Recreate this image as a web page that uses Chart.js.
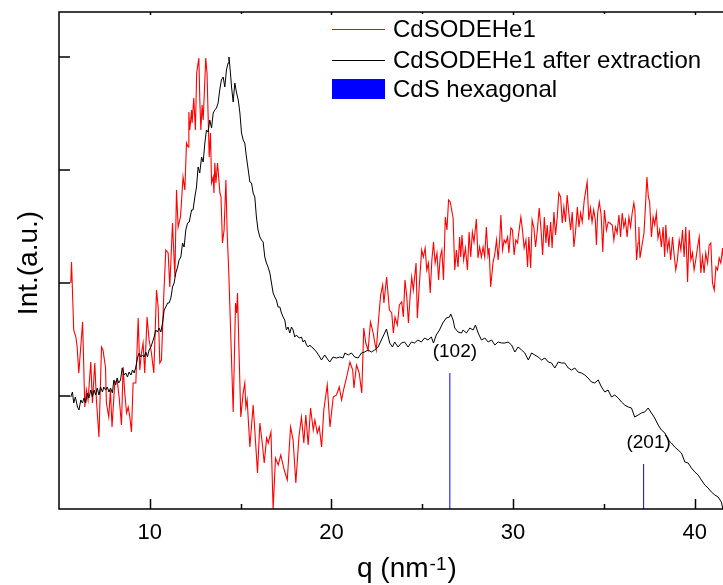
<!DOCTYPE html>
<html>
<head>
<meta charset="utf-8">
<script src="https://cdn.jsdelivr.net/npm/chart.js@4.4.1/dist/chart.umd.min.js"></script>
<style>
  html, body { margin: 0; padding: 0; background: #ffffff; }
  #wrap { width: 723px; height: 585px; }
</style>
</head>
<body>
<div id="wrap"><canvas id="c" width="723" height="585"></canvas></div>
<script>
// ---------------- data ----------------
const qRed = [
  5.65,5.69,5.81,5.93,6.00,6.09,6.30,6.42,6.51,6.60,
  6.75,6.84,6.97,7.06,7.20,7.34,7.42,7.56,7.61,7.74,
  7.83,7.92,8.07,8.20,8.31,8.44,8.53,8.62,8.72,8.81,
  8.90,8.99,9.08,9.23,9.36,9.45,9.54,9.63,9.72,9.85,
  9.96,10.09,10.22,10.37,10.46,10.55,10.64,10.77,10.88,11.01,
  11.10,11.25,11.38,11.47,11.56,11.69,11.83,11.93,12.02,12.11,
  12.15,12.20,12.30,12.33,12.42,12.51,12.58,12.70,12.75,12.81,
  12.88,12.94,13.08,13.15,13.27,13.34,13.40,13.49,13.53,13.58,
  13.64,13.73,13.86,13.92,14.00,14.09,14.19,14.26,14.35,14.59,
  14.72,14.78,14.83,14.92,15.01,15.14,15.23,15.29,15.36,15.51,
  15.69,15.78,15.93,16.06,16.19,16.30,16.43,16.52,16.67,16.79,
  16.92,17.07,17.21,17.40,17.57,17.75,17.89,18.04,18.21,18.35,
  18.48,18.59,18.72,18.85,19.00,19.09,19.22,19.33,19.46,19.58,
  19.77,19.92,20.10,20.28,20.43,20.56,20.69,20.84,21.02,21.17,
  21.24,21.38,21.53,21.67,21.78,21.89,22.02,22.15,22.30,22.36,
  22.47,22.58,22.71,22.82,22.89,23.04,23.19,23.32,23.41,23.50,
  23.63,23.74,23.87,23.96,24.05,24.15,24.24,24.33,24.42,24.51,
  24.66,24.73,24.84,24.97,25.06,25.16,25.25,25.34,25.44,25.53,
  25.62,25.71,25.81,25.90,25.99,26.08,26.17,26.27,26.36,26.45,
  26.54,26.70,26.79,26.88,26.97,27.06,27.12,27.19,27.28,27.38,
  27.49,27.58,27.67,27.76,27.85,27.98,28.07,28.16,28.26,28.35,
  28.44,28.53,28.62,28.68,28.77,28.90,28.99,29.09,29.18,29.27,
  29.33,29.42,29.51,29.60,29.70,29.77,29.88,29.97,30.06,30.15,
  30.25,30.32,30.43,30.52,30.61,30.71,30.80,30.87,30.97,31.05,
  31.15,31.24,31.33,31.44,31.53,31.63,31.72,31.81,31.88,31.97,
  32.07,32.15,32.25,32.34,32.43,32.52,32.62,32.71,32.80,32.89,
  32.98,33.07,33.17,33.26,33.35,33.44,33.54,33.63,33.72,33.81,
  33.92,34.08,34.17,34.26,34.35,34.44,34.53,34.59,34.66,34.75,
  34.85,34.94,35.03,35.14,35.24,35.33,35.46,35.55,35.64,35.73,
  35.83,35.92,36.01,36.10,36.19,36.28,36.38,36.47,36.56,36.65,
  36.71,36.80,36.88,36.93,36.99,37.12,37.21,37.30,37.37,37.45,
  37.52,37.62,37.71,37.80,37.89,37.98,38.07,38.17,38.26,38.35,
  38.41,38.50,38.59,38.68,38.78,38.87,38.96,39.05,39.15,39.24,
  39.33,39.42,39.51,39.61,39.70,39.79,39.88,39.97,40.06,40.16,
  40.25,40.34,40.43,40.52,40.61,40.71,40.80,40.89,40.98,41.08,
  41.17,41.26,41.35,41.44,41.54,41.63
];
const intRed = [
  226,247,179,172,162,136,187,102,119,109,
  147,106,146,109,72,162,159,142,106,92,
  119,82,126,129,112,84,142,116,96,102,
  92,77,126,126,191,139,156,166,136,192,
  169,156,136,219,202,146,149,214,259,256,
  222,286,232,319,282,292,332,319,366,362,
  397,379,399,386,411,379,436,451,411,379,
  404,389,451,436,352,376,326,332,316,346,
  326,346,316,312,266,279,329,276,236,97,
  206,196,216,152,92,116,126,102,109,62,
  104,79,36,86,66,46,71,66,77,0,
  51,44,54,39,29,82,69,26,72,92,
  66,94,64,101,79,89,76,82,62,99,
  124,82,112,114,122,109,121,132,147,139,
  121,144,136,116,181,166,159,187,176,169,
  159,186,214,224,206,232,199,196,176,192,
  184,204,207,192,229,212,186,212,232,219,
  246,191,224,259,252,261,239,246,216,249,
  267,246,256,229,252,259,229,292,279,309,
  307,291,239,259,242,272,252,274,249,261,
  239,277,252,277,267,290,251,262,252,262,
  252,282,254,261,222,247,254,269,249,271,
  294,259,269,266,272,256,281,279,254,269,
  266,277,292,279,261,269,242,272,241,289,
  281,262,277,301,282,254,292,266,284,262,
  287,261,297,274,291,316,312,286,302,287,
  314,296,279,297,262,277,302,282,296,287,
  309,327,289,301,287,299,289,264,296,307,
  294,257,299,279,287,286,284,269,282,276,
  294,272,296,282,289,272,292,282,296,306,
  299,249,266,282,251,266,276,306,332,312,
  307,272,292,284,296,271,279,262,282,252,
  284,259,269,249,272,254,239,249,269,259,
  279,252,282,227,279,249,256,239,249,262,
  272,236,252,236,256,246,264,266,226,219,
  242,239,251,246,261,239
];
const qBlack = [
  5.65,5.74,5.81,5.90,6.02,6.10,6.20,6.29,6.38,6.47,
  6.56,6.65,6.75,6.84,6.93,7.02,7.11,7.20,7.29,7.39,
  7.47,7.57,7.66,7.75,7.84,7.94,8.02,8.12,8.20,8.29,
  8.39,8.48,8.59,8.68,8.77,8.86,8.96,9.05,9.14,9.23,
  9.32,9.41,9.50,9.60,9.69,9.78,9.87,9.96,10.06,10.15,
  10.24,10.33,10.42,10.51,10.61,10.70,10.79,10.88,10.98,11.06,
  11.16,11.25,11.34,11.43,11.53,11.61,11.71,11.80,11.89,11.98,
  12.08,12.17,12.30,12.38,12.48,12.57,12.66,12.75,12.85,12.94,
  13.03,13.12,13.21,13.30,13.40,13.49,13.58,13.67,13.76,13.85,
  13.94,14.04,14.13,14.22,14.31,14.36,14.44,14.50,14.59,14.68,
  14.78,14.87,14.96,15.05,15.14,15.23,15.32,15.42,15.51,15.60,
  15.69,15.78,15.87,15.96,16.06,16.15,16.24,16.33,16.42,16.51,
  16.61,16.70,16.79,16.88,16.97,17.06,17.16,17.25,17.34,17.43,
  17.52,17.61,17.71,17.80,17.89,17.98,18.07,18.16,18.26,18.35,
  18.44,18.53,18.63,18.72,18.81,18.90,18.99,19.18,19.36,19.45,
  19.63,19.82,19.91,20.09,20.28,20.46,20.64,20.74,20.92,21.10,
  21.28,21.47,21.65,21.83,22.02,22.20,22.38,22.57,22.75,22.93,
  23.03,23.21,23.36,23.48,23.67,23.85,24.03,24.22,24.40,24.58,
  24.76,24.95,25.13,25.31,25.50,25.62,25.77,25.95,26.13,26.32,
  26.50,26.57,26.70,26.79,26.97,27.16,27.25,27.43,27.62,27.80,
  27.93,28.08,28.26,28.45,28.63,28.82,29.00,29.18,29.37,29.55,
  29.73,29.92,30.10,30.28,30.47,30.65,30.84,31.02,31.20,31.38,
  31.57,31.75,31.94,32.12,32.30,32.49,32.67,32.85,33.04,33.22,
  33.40,33.58,33.77,33.95,34.13,34.32,34.50,34.69,34.87,35.05,
  35.23,35.42,35.60,35.79,35.97,36.15,36.34,36.52,36.70,36.89,
  37.07,37.25,37.44,37.62,37.80,37.99,38.17,38.36,38.54,38.72,
  38.90,39.09,39.27,39.46,39.64,39.82,40.01,40.19,40.37,40.56,
  40.74,40.92,41.11,41.29,41.47,41.55
];
const intBlack = [
  112,117,106,112,102,99,109,106,111,106,
  116,111,119,112,119,114,121,114,122,117,
  122,119,122,117,121,116,129,124,131,126,
  129,141,134,136,132,137,134,139,136,142,
  151,156,152,154,152,157,152,159,162,167,
  172,179,177,181,177,186,199,202,206,206,
  211,222,226,236,242,249,252,266,262,279,
  286,287,299,299,312,322,342,336,352,347,
  366,379,377,389,381,396,399,401,406,419,
  429,432,422,439,446,452,436,422,407,426,
  416,409,396,376,369,366,352,339,327,326,
  316,312,292,279,272,269,267,252,246,242,
  236,226,216,212,209,202,202,196,192,189,
  179,182,176,182,179,172,174,172,171,172,
  167,169,164,162,164,162,161,157,152,149,
  154,149,147,152,151,152,151,156,154,156,
  152,151,156,157,159,157,159,162,169,176,
  180,166,162,167,162,166,167,162,167,166,
  169,167,171,169,172,166,174,179,186,191,
  192,195,189,181,177,176,179,176,181,179,
  184,176,169,171,167,169,164,167,166,166,
  167,164,157,162,159,156,149,156,154,152,
  149,151,147,146,141,147,146,146,141,139,
  141,137,136,134,131,127,126,129,122,117,
  119,112,114,111,107,104,102,101,92,94,
  96,97,101,96,91,84,79,76,69,66,
  62,59,56,47,46,41,37,34,29,24,
  21,17,14,12,7,0
];
// CdS hexagonal reference reflections
const peakQ = [26.52, 37.19];
const peakInt = [136, 45];
const peakLabels = ['(102)', '(201)'];

const seriesNames = ['CdSODEHe1', 'CdSODEHe1 after extraction', 'CdS hexagonal'];
const xMajorTicks = [10, 20, 30, 40];
const xMinorTicks = [15, 25, 35];
const yTicks = [0, 113, 226, 339, 452];

// ---------------- chart ----------------
const FONT = "'Liberation Sans', Arial, sans-serif";
const redData = qRed.map((q, i) => ({ x: q, y: intRed[i] }));
const blackData = qBlack.map((q, i) => ({ x: q, y: intBlack[i] }));
const stickData = [];
peakQ.forEach((q, i) => {
  stickData.push({ x: q, y: 0 }, { x: q, y: peakInt[i] }, { x: q, y: null });
});

const decor = {
  id: 'decor',
  afterDraw(chart) {
    const { ctx, chartArea: a, scales: { x, y } } = chart;
    ctx.save();
    ctx.strokeStyle = '#000';
    ctx.lineWidth = 1.5;
    ctx.beginPath();
    ctx.moveTo(a.left, a.top); ctx.lineTo(a.right + 2, a.top);
    ctx.moveTo(a.left, a.top - 0.75); ctx.lineTo(a.left, a.bottom);
    ctx.lineTo(a.right + 2, a.bottom);
    ctx.stroke();

    const seg = (x1, y1, x2, y2) => { ctx.beginPath(); ctx.moveTo(x1, y1); ctx.lineTo(x2, y2); ctx.stroke(); };
    ctx.lineWidth = 1.5;
    xMajorTicks.forEach(v => {
      const px = Math.round(x.getPixelForValue(v)) + 0.5;
      seg(px, a.bottom, px, a.bottom - 10);
      seg(px, a.top, px, a.top + 3);
    });
    xMinorTicks.forEach(v => {
      const px = Math.round(x.getPixelForValue(v)) + 0.5;
      seg(px, a.bottom, px, a.bottom - 5);
      seg(px, a.top, px, a.top + 2);
    });
    yTicks.forEach(v => {
      const py = y.getPixelForValue(v);
      if (v === 0) return;
      seg(a.left, py, a.left + 11, py);
    });

    // peak labels
    ctx.fillStyle = '#000';
    ctx.font = '19px ' + FONT;
    ctx.textAlign = 'center';
    ctx.textBaseline = 'alphabetic';
    peakQ.forEach((q, i) => {
      ctx.fillText(peakLabels[i], x.getPixelForValue(q) + 5, y.getPixelForValue(peakInt[i]) - 16);
    });

    // legend
    ctx.font = '24px ' + FONT;
    ctx.textAlign = 'left';
    ctx.textBaseline = 'middle';
    const lx1 = 332, lx2 = 385, tx = 393;
    const rows = [29, 60, 89];
    ctx.lineWidth = 1;
    ctx.strokeStyle = '#ff0000';
    seg(lx1, rows[0] + 0.5, lx2, rows[0] + 0.5);
    ctx.strokeStyle = '#000000';
    seg(lx1, rows[1] + 0.5, lx2, rows[1] + 0.5);
    ctx.fillStyle = '#0000ff';
    ctx.fillRect(lx1, 79, lx2 - lx1, 20);
    ctx.fillStyle = '#000';
    seriesNames.forEach((n, i) => ctx.fillText(n, tx, rows[i] + 1));

    // x title with superscript
    ctx.textBaseline = 'alphabetic';
    ctx.textAlign = 'left';
    ctx.font = '28px ' + FONT;
    const p1 = 'q (nm', p3 = ')';
    let cx = 357;
    ctx.fillText(p1, cx, 577);
    cx += ctx.measureText(p1).width + 1;
    ctx.font = '19px ' + FONT;
    ctx.fillText('-1', cx, 570);
    cx += ctx.measureText('-1').width + 1;
    ctx.font = '28px ' + FONT;
    ctx.fillText(p3, cx, 577);

    // y title
    ctx.save();
    ctx.translate(37, 263);
    ctx.rotate(-Math.PI / 2);
    ctx.textAlign = 'center';
    ctx.font = '28px ' + FONT;
    ctx.fillText('Int.(a.u.)', 0, 0);
    ctx.restore();

    ctx.restore();
  }
};

new Chart(document.getElementById('c'), {
  type: 'line',
  data: {
    datasets: [
      { label: seriesNames[0], data: redData, borderColor: '#ff0000', borderWidth: 1.1, pointRadius: 0, tension: 0, order: 2 },
      { label: seriesNames[1], data: blackData, borderColor: '#000000', borderWidth: 1, pointRadius: 0, tension: 0, order: 1 },
      { label: seriesNames[2], data: stickData, borderColor: '#0000ff', borderWidth: 1, pointRadius: 0, spanGaps: false, order: 0 }
    ]
  },
  options: {
    responsive: false,
    devicePixelRatio: 1,
    animation: false,
    parsing: false,
    layout: { padding: { left: 0, right: 0, top: 12, bottom: 0 } },
    plugins: { legend: { display: false }, tooltip: { enabled: false }, title: { display: false } },
    scales: {
      x: {
        type: 'linear', min: 5, max: 41.56,
        grid: { display: false, drawTicks: false },
        border: { display: false },
        afterBuildTicks: s => { s.ticks = xMajorTicks.map(v => ({ value: v })); },
        afterFit: s => { s.height = 76; },
        ticks: { color: '#000', font: { family: FONT, size: 22 }, padding: 11, maxRotation: 0, autoSkip: false }
      },
      y: {
        type: 'linear', min: 0, max: 497,
        grid: { display: false, drawTicks: false },
        border: { display: false },
        afterBuildTicks: s => { s.ticks = yTicks.map(v => ({ value: v })); },
        afterFit: s => { s.width = 59; },
        ticks: { display: false }
      }
    }
  },
  plugins: [decor]
});
</script>
</body>
</html>
